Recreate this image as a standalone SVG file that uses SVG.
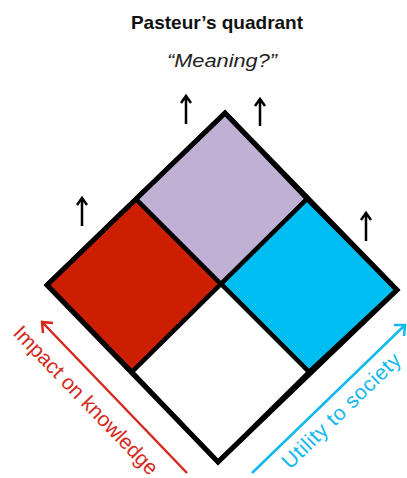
<svg xmlns="http://www.w3.org/2000/svg" width="407" height="478" viewBox="0 0 407 478">
  <defs>
    <style>
      .title { font-family: "Liberation Sans", Arial, sans-serif; font-weight: bold; font-size: 19px; fill: #111; }
      .sub { font-family: "Liberation Sans", Arial, sans-serif; font-style: italic; font-size: 19px; fill: #222; }
      .quad { stroke: #000; stroke-width: 4.5; stroke-linejoin: miter; }
      .up { stroke: #000; stroke-width: 2.5; fill: none; stroke-linecap: butt; }
      .axis-r { stroke: #D42A1E; stroke-width: 2.5; fill: none; }
      .axis-b { stroke: #12B8F0; stroke-width: 2.5; fill: none; }
      .lab { font-family: "Liberation Sans", Arial, sans-serif; font-size: 21px; }
    </style>
  </defs>
  <rect width="407" height="478" fill="#fff"/>
  <text class="title" x="217" y="29" text-anchor="middle">Pasteur’s quadrant</text>
  <text class="sub" x="167" y="67" textLength="110" lengthAdjust="spacingAndGlyphs">“Meaning?”</text>

  <g id="quadrant-red">
    <polygon class="quad" points="47,285 136,199 221,284 132,372" fill="#CC1E00"/>
  </g>
  <g id="quadrant-purple">
    <polygon class="quad" points="136,199 225,113 307,199 221,284" fill="#C0B0D4"/>
  </g>
  <g id="quadrant-cyan">
    <polygon class="quad" points="221,284 307,199 397,290 309,372" fill="#00BEF2"/>
  </g>
  <g id="quadrant-white">
    <polygon class="quad" points="132,372 221,284 309,372 218,462" fill="#FFFFFF"/>
  </g>
  <g id="outline">
    <polygon points="225,113 397,290 218,462 47,285" fill="none" stroke="#000" stroke-width="5" stroke-linejoin="miter"/>
  </g>

  <g id="connectors">
    <g id="up-arrows">
      <path class="up" d="M186,124 V97 M181,103 L186,96 L191,103"/>
      <path class="up" d="M260,126 V100 M255,106 L260,99 L265,106"/>
      <path class="up" d="M82,226 V199 M77,205 L82,198 L87,205"/>
      <path class="up" d="M366,241 V214 M361,220 L366,213 L371,220"/>
    </g>
    <g id="axis-knowledge">
      <path class="axis-r" d="M187,473 L43,323 M43,333 L42,322 L53,323"/>
    </g>
    <g id="axis-society">
      <path class="axis-b" d="M252,473 L404,326 M394,325 L405,325 L404,336"/>
    </g>
  </g>

  <text class="lab" fill="#D42A1E" transform="translate(12,334) rotate(46)" textLength="198" lengthAdjust="spacing">Impact on knowledge</text>
  <text class="lab" fill="#12B8F0" transform="translate(290,470) rotate(-44)" textLength="156" lengthAdjust="spacing">Utility to society</text>
</svg>
